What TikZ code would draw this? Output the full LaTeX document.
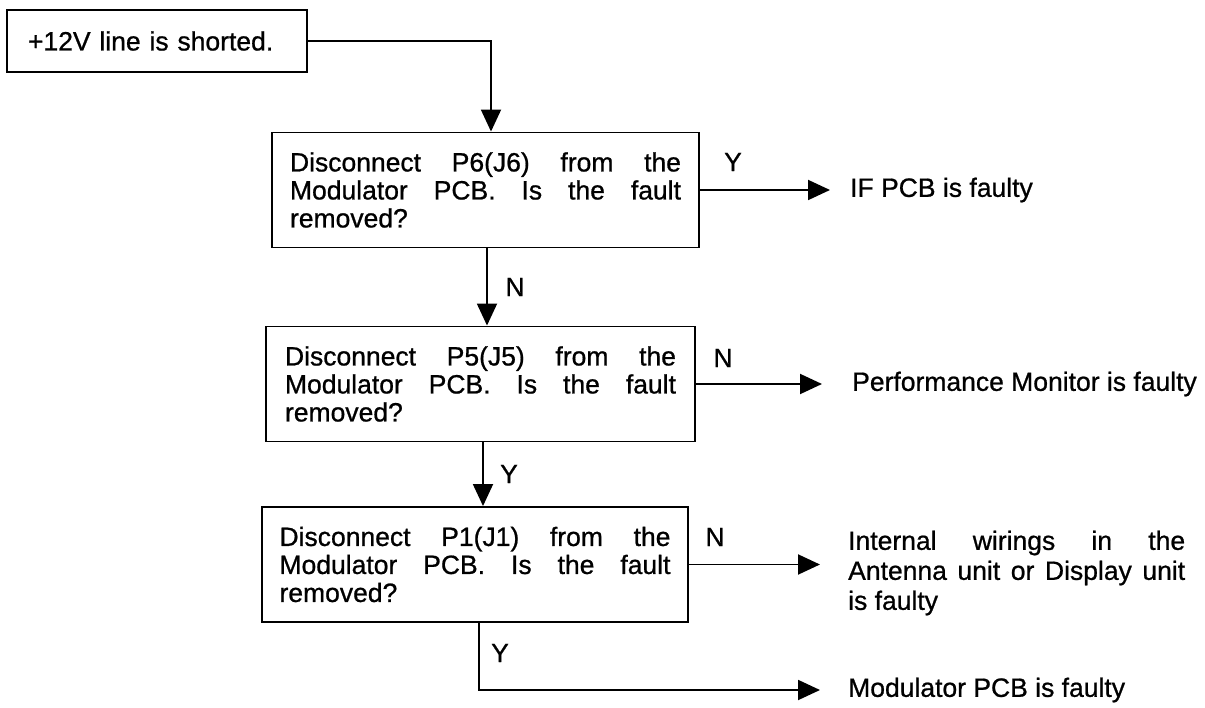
\documentclass[tikz,border=0pt]{standalone}
\usepackage{fontspec}
\setmainfont{Liberation Sans}[FakeBold=0.8]
\usetikzlibrary{arrows.meta}
% one justified line of a question box
\newcommand\qline[1]{\hbox to 391pt{#1}}
\newcommand\rline[1]{\hbox to 337pt{#1}}
\begin{document}
\begin{tikzpicture}[x=1pt,y=-1pt,
  every node/.style={font=\fontsize{26.5}{28}\selectfont},
  qbox/.style={draw, line width=1.9pt, minimum width=427pt, minimum height=115pt, inner sep=0pt, align=left},
  lbl/.style={inner sep=0pt},
  res/.style={anchor=west, inner sep=0pt, align=left},
  arr/.style={line width=1.9pt, -{Triangle[length=22pt,width=20pt]}}]
\useasboundingbox (0,0) rectangle (1205,708);

% start and question boxes
\node[draw, line width=1.9pt, text width=258pt, inner xsep=21pt, inner ysep=0pt, minimum height=62pt, align=left] (start) at (157,41) {+12V line is shorted.};
\node[qbox] (b2) at (485.5,190) {\qline{Disconnect\hfill P6(J6)\hfill from\hfill the}\\
  \qline{Modulator\hfill PCB.\hfill Is\hfill the\hfill fault}\\ removed?};
\node[qbox, minimum width=429pt] (b3) at (480.5,384) {\qline{Disconnect\hfill P5(J5)\hfill from\hfill the}\\
  \qline{Modulator\hfill PCB.\hfill Is\hfill the\hfill fault}\\ removed?};
\node[qbox, minimum width=426pt] (b4) at (475,564.5) {\qline{Disconnect\hfill P1(J1)\hfill from\hfill the}\\
  \qline{Modulator\hfill PCB.\hfill Is\hfill the\hfill fault}\\ removed?};

% outcomes
\node[res] (r1) at (850,190) {IF PCB is faulty};
\node[res] (r2) at (852,384) {Performance Monitor is faulty};
\node[res, font=\fontsize{26.5}{30}\selectfont] (r3) at (848,573) {\rline{Internal\hfill wirings\hfill in\hfill the}\\
  \rline{Antenna\hfill unit\hfill or\hfill Display\hfill unit}\\ is faulty};
\node[res] (r4) at (848,690) {Modulator PCB is faulty};

% connector columns and arrow ends
\coordinate (x1) at (491,0);
\coordinate (x2) at (487,0);
\coordinate (x3) at (483,0);
\coordinate (x4) at (479,0);
\coordinate (t1) at (830,0);
\coordinate (t2) at (822,0);
\coordinate (t3) at (820,0);
\coordinate (t4) at (820,690);

% connectors
\draw[arr] (start.east) -| (x1 |- b2.north);
\draw[arr] (x2 |- b2.south) -- (x2 |- b3.north);
\draw[arr] (x3 |- b3.south) -- (x3 |- b4.north);
\draw[arr] (x4 |- b4.south) |- (t4);
\draw[arr] (b2.east) -- (t1 |- b2.east);
\draw[arr] (b3.east) -- (t2 |- b3.east);
\draw[arr] (b4.east) -- (t3 |- b4.east);

% branch labels
\node[lbl] (l1) at (733,162) {Y};
\node[lbl] (l2) at (515,287) {N};
\node[lbl] (l3) at (723,358) {N};
\node[lbl] (l4) at (509,474) {Y};
\node[lbl] (l5) at (715,537) {N};
\node[lbl] (l6) at (500,653) {Y};
\end{tikzpicture}
\end{document}
